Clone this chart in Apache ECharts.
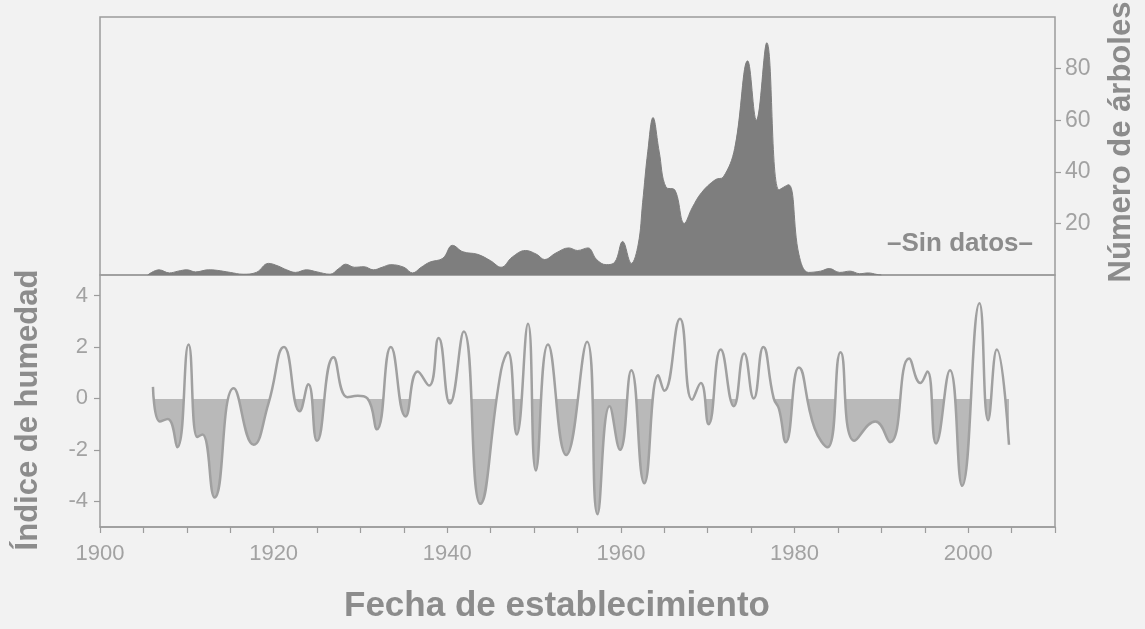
<!DOCTYPE html>
<html><head><meta charset="utf-8">
<script src="https://cdn.jsdelivr.net/npm/echarts@6/dist/echarts.min.js"></script>
<style>html,body{margin:0;padding:0;background:#f2f2f2;}#c{width:1145px;height:629px;}</style>
</head><body><div id="c"></div>
<script>
// Número de árboles (establecimiento) por año
const treeYears = [1905.5,1906.8,1908,1909,1910,1911,1912.5,1913.5,1915,1916.5,1918,1919.4,1920.5,1921.5,1922.5,1923.8,1925,1926.5,1927.5,1928.3,1929.3,1930.4,1931.5,1932.5,1933.5,1935,1936,1937,1938,1939.5,1940.6,1941.8,1943.5,1945,1946.2,1947.5,1949,1950.3,1951.2,1952.5,1954,1955,1956.2,1957.2,1958.3,1959.3,1960.2,1961.2,1962,1962.5,1963.1,1963.7,1964.4,1965.2,1966.2,1967.3,1968.2,1969.3,1970.9,1971.8,1973.1,1974.6,1975.6,1976.8,1978.2,1979.3,1980.5,1981.6,1983,1984,1985.2,1986.4,1987.5,1988.5,1989.5,1990];
const treeCounts = [0,2,0.8,1.5,2,1.2,2,1.8,1,0.3,1,4.5,3.5,2,1,2,1.2,0.3,2.5,4.2,3,3.2,2,3,4,3,0.8,3,5,6.5,11.5,9,8,5.5,3,7,9.5,8,6,8.5,10.5,9.5,10.5,6,4,5,13,4.5,12,28,48,61,48,34,33,20,26,32,37,38,49,83,60,90,33,35,8,1,1.5,2.5,1,1.5,0.5,0.8,0.2,0];
// Índice de humedad
const humYears = [1906.1,1906.9,1907.8,1908.9,1910.2,1911.2,1911.8,1913.2,1915.4,1917.7,1919.4,1921.2,1923.0,1924.0,1925.0,1926.9,1928.5,1929.7,1930.8,1931.9,1933.5,1935.2,1936.6,1937.9,1939.0,1940.3,1941.9,1943.8,1946.2,1947.0,1948.0,1949.3,1950.2,1951.6,1953.7,1956.1,1957.3,1958.7,1959.9,1961.2,1962.7,1964.3,1965.0,1966.8,1968.2,1969.2,1970.1,1971.5,1973.0,1974.2,1975.3,1976.4,1977.6,1978.2,1979.0,1980.5,1982.3,1983.8,1985.3,1986.9,1989.3,1991.0,1993.2,1994.5,1995.3,1996.3,1997.9,1999.3,2001.3,2002.3,2003.3,2004.7];
const humValues = [0.45,-0.9,-0.8,-1.9,2.1,-1.5,-1.4,-3.85,0.4,-1.8,-0.2,2.0,-0.5,0.55,-1.65,1.6,0.05,0.1,0,-1.2,2.0,-0.7,1.05,0.5,2.35,-0.2,2.6,-4.1,1.1,1.8,-1.4,2.9,-2.8,2.1,-2.2,2.2,-4.5,-0.3,-2.0,1.1,-3.3,0.9,0.3,3.1,-0.05,0.6,-1.0,1.9,-0.3,1.75,0,2.0,0,-0.4,-1.7,1.2,-1.15,-1.9,1.8,-1.65,-0.9,-1.7,1.55,0.6,1.05,-1.75,1.1,-3.4,3.7,-0.85,1.9,-1.8];
// Etiquetas de ejes
const xTickLabels = [1900,1920,1940,1960,1980,2000];
const treeTickLabels = [20,40,60,80];
const humTickLabels = [-4,-2,0,2,4];
const xTitle = 'Fecha de establecimiento';
const leftTitle = 'Índice de humedad';
const rightTitle = 'Número de árboles';
const noDataLabel = '–Sin datos–';

const treeData = treeYears.map((y,i)=>[y,treeCounts[i]]);
const humData = humYears.map((y,i)=>[y,humValues[i]]);

const FONT = "'Liberation Sans', Arial, sans-serif";
const axisGray = '#9c9c9c';
const textGray = '#a2a2a2';
const titleGray = '#8c8c8c';
const negFill = '#b9b9b9';

const el = document.getElementById('c');
const chart = echarts.init(el, null, {renderer:'canvas'});
const option = {
  backgroundColor:'#f2f2f2',
  animation:false,
  grid:[
    {left:100,right:90,top:17,height:258,show:true,borderColor:axisGray,borderWidth:1.5,backgroundColor:'transparent'},
    {left:100,right:90,top:275,height:252,show:true,borderColor:axisGray,borderWidth:1.5,backgroundColor:'transparent'}
  ],
  xAxis:[
    {gridIndex:0,type:'value',min:1900,max:2010,show:false},
    {gridIndex:1,type:'value',min:1900,max:2010,interval:5,
      axisLine:{show:true,onZero:false,lineStyle:{color:axisGray,width:1.5}},
      axisTick:{show:true,length:6,lineStyle:{color:axisGray,width:1.2}},
      axisLabel:{customValues:xTickLabels,formatter:v=>String(v),color:textGray,fontSize:22,fontFamily:FONT,margin:16},
      splitLine:{show:false}}
  ],
  yAxis:[
    {gridIndex:0,type:'value',position:'right',min:0,max:100,
      axisLine:{show:false},
      axisTick:{show:true,customValues:treeTickLabels,length:6,lineStyle:{color:axisGray,width:1.2}},
      axisLabel:{customValues:treeTickLabels,formatter:v=>String(v),color:textGray,fontSize:23,fontFamily:FONT,margin:10},
      splitLine:{show:false}},
    {gridIndex:1,type:'value',position:'left',min:-5,max:4.8,
      axisLine:{show:false,onZero:false},
      axisTick:{show:true,customValues:humTickLabels,length:6,lineStyle:{color:axisGray,width:1.2}},
      axisLabel:{customValues:humTickLabels,formatter:v=>String(v),color:textGray,fontSize:22,fontFamily:FONT,margin:12},
      splitLine:{show:false}}
  ],
  series:[
    {type:'line',xAxisIndex:0,yAxisIndex:0,data:treeData,smooth:0.4,showSymbol:false,
      lineStyle:{color:'#7e7e7e',width:1},areaStyle:{color:'#7e7e7e',opacity:1},z:2},
    {type:'line',xAxisIndex:1,yAxisIndex:1,data:humData,smooth:0.5,showSymbol:false,
      lineStyle:{width:0},areaStyle:{opacity:1,color:'rgba(0,0,0,0)'},z:1},
    {type:'line',xAxisIndex:1,yAxisIndex:1,data:humData,smooth:0.5,showSymbol:false,
      lineStyle:{color:'#a0a0a0',width:2.5},z:3}
  ],
  graphic:[
    {type:'text',x:557,y:606,style:{text:xTitle,font:'bold 35px '+FONT,fill:titleGray,textAlign:'center',textVerticalAlign:'middle'}},
    {type:'text',x:28,y:410,rotation:Math.PI/2,style:{text:leftTitle,font:'bold 31px '+FONT,fill:titleGray,textAlign:'center',textVerticalAlign:'middle'}},
    {type:'text',x:1121,y:142,rotation:Math.PI/2,style:{text:rightTitle,font:'bold 31px '+FONT,fill:titleGray,textAlign:'center',textVerticalAlign:'middle'}},
    {type:'text',x:960,y:244,style:{text:noDataLabel,font:'bold 26px '+FONT,fill:titleGray,textAlign:'center',textVerticalAlign:'middle'}}
  ]
};
chart.setOption(option);
// fill only below zero: gradient split at the pixel of y = 0 given by the axis
const zeroY = chart.convertToPixel({xAxisIndex:1, yAxisIndex:1}, [1900, 0])[1];
const H = el.clientHeight;
const f = (zeroY + 0.6) / H;
chart.setOption({series:[{},{areaStyle:{opacity:1,color:new echarts.graphic.LinearGradient(0,0,0,H,[
  {offset:0,color:'rgba(242,242,242,0)'},{offset:f,color:'rgba(242,242,242,0)'},
  {offset:f,color:negFill},{offset:1,color:negFill}],true)}},{}]});
</script></body></html>
